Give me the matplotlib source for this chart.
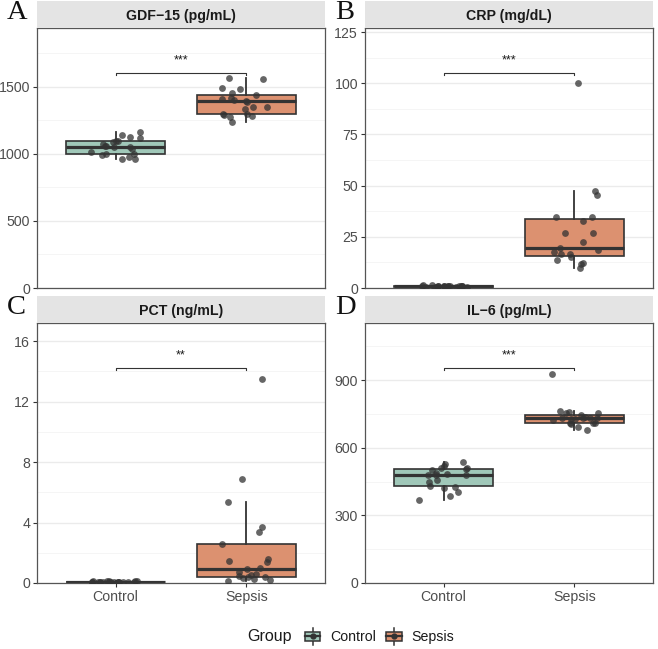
import numpy as np
import matplotlib
matplotlib.use("Agg")
import matplotlib.pyplot as plt
from matplotlib.patches import Rectangle, Patch
from matplotlib.lines import Line2D
from matplotlib.legend_handler import HandlerBase
from matplotlib.ticker import MultipleLocator

plt.rcParams['font.family'] = ['Liberation Sans', 'DejaVu Sans']

# values
groups = ["Control", "Sepsis"]

gdf_control = [959, 964, 976, 996, 1001, 1001, 1013, 1038, 1050, 1050,
               1057, 1062, 1075, 1087, 1095, 1100, 1117, 1129, 1144, 1161]
gdf_sepsis = [1235, 1273, 1285, 1290, 1296, 1300, 1334, 1347, 1352, 1391,
              1395, 1401, 1408, 1421, 1438, 1458, 1483, 1490, 1562, 1569]

crp_control = [1.5, 1.2, 0.9, 0.8, 1.0, 0.7, 1.3, 0.6, 1.1, 0.9,
               0.5, 1.0, 0.8, 1.2, 0.7, 0.6, 0.9, 1.1, 0.5, 0.8]
crp_sepsis = [9.7, 11.7, 12.2, 13.8, 14.9, 16.7, 16.7, 17.5, 18.7, 19.5,
              22.4, 26.8, 27.1, 32.8, 34.6, 34.6, 45.5, 47.6, 100.2]

pct_control = [0.05, 0.08, 0.12, 0.06, 0.04, 0.10, 0.07, 0.05, 0.15, 0.09,
               0.06, 0.11, 0.04, 0.08, 0.05, 0.13, 0.07, 0.06, 0.09, 0.05]
pct_sepsis = [0.15, 0.22, 0.26, 0.33, 0.37, 0.37, 0.44, 0.51, 0.59, 0.73,
              0.95, 1.02, 1.36, 1.43, 1.58, 2.6, 3.4, 3.7, 5.35, 6.9, 13.5]

il6_control = [366, 384, 403, 420, 425, 432, 450, 457, 478, 480,
               480, 482, 490, 502, 506, 512, 512, 521, 528, 536]
il6_sepsis = [679, 693, 704, 708, 708, 709, 723, 727, 727, 730,
              730, 730, 733, 738, 745, 752, 752, 757, 764, 927]

titles = ["GDF\u221215 (pg/mL)", "CRP (mg/dL)", "PCT (ng/mL)", "IL\u22126 (pg/mL)"]
letters = ["A", "B", "C", "D"]
sig_height = [1606, 105.2, 14.24, 955]
sig_label = ["***", "***", "**", "***"]

data = [(gdf_control, gdf_sepsis), (crp_control, crp_sepsis),
        (pct_control, pct_sepsis), (il6_control, il6_sepsis)]
ylims = [1940, 127, 17.2, 1153]
ystep = [500, 25, 4, 300]

fill = {"Control": "#a0c8b9", "Sepsis": "#dc9170"}
edge = "#333333"

W, H = 658, 649
fig = plt.figure(figsize=(W / 100, H / 100), dpi=100)

# panel boxes in pixels: left, top, right, bottom
boxes = [(37, 28, 325, 288), (365, 28, 653, 288),
         (37, 323, 325, 583), (365, 323, 653, 583)]
strip_h = 27

rng = np.random.default_rng(7)

for i in range(4):
    l, t, r, b = boxes[i]
    ax = fig.add_axes([l / W, 1 - b / H, (r - l) / W, (b - t) / H])
    st = fig.add_axes([l / W, 1 - t / H, (r - l) / W, strip_h / H])
    st.set_facecolor("#e4e4e4")
    st.set_xticks([]); st.set_yticks([])
    for s in st.spines.values():
        s.set_visible(False)
    st.text(0.5, 0.45, titles[i], ha="center", va="center", fontsize=10.2,
            fontweight="bold", color="#1a1a1a", transform=st.transAxes)

    ctrl, seps = data[i]
    bp = ax.boxplot([ctrl, seps], positions=[1, 2], widths=0.75, patch_artist=True,
                    showfliers=False, showcaps=False,
                    boxprops=dict(edgecolor=edge, linewidth=1.2),
                    whiskerprops=dict(color=edge, linewidth=1.3),
                    medianprops=dict(color=edge, linewidth=2.3), zorder=2)
    for patch, g in zip(bp["boxes"], groups):
        patch.set_facecolor(fill[g])

    for k, vals in enumerate([ctrl, seps]):
        xj = (k + 1) + rng.uniform(-0.19, 0.19, len(vals))
        ax.scatter(xj, vals, s=24, color="#333333", alpha=0.75, linewidths=0, zorder=3)

    # significance bracket
    top = ylims[i]
    tip = top * 0.01
    y = sig_height[i]
    ax.plot([1, 1, 2, 2], [y - tip, y, y, y - tip], color="#333333", lw=0.8, zorder=3)
    ax.text(1.5, y + top * 0.025, sig_label[i], ha="center", va="bottom",
            fontsize=9, color="#1a1a1a")

    ax.set_xlim(0.4, 2.6)
    ax.set_ylim(0, top)
    ax.yaxis.set_major_locator(MultipleLocator(ystep[i]))
    ax.yaxis.set_minor_locator(MultipleLocator(ystep[i] / 2))
    ax.grid(axis="y", which="major", color="#ebebeb", lw=1.0, zorder=0)
    ax.grid(axis="y", which="minor", color="#f4f4f4", lw=0.6, zorder=0)
    ax.set_axisbelow(True)
    ax.tick_params(axis="y", which="minor", length=0)
    ax.tick_params(axis="both", which="major", length=3, color="#333333",
                   labelsize=10.2, labelcolor="#4d4d4d", width=0.8, pad=2)
    ax.set_xticks([1, 2])
    if i >= 2:
        ax.set_xticklabels(groups)
    else:
        ax.set_xticklabels([])
        ax.tick_params(axis="x", length=0)
    for s in ax.spines.values():
        s.set_color("#555555")
        s.set_linewidth(0.9)

    fig.text((l - 30) / W, 1 - (t - 28) / H, letters[i], family="Liberation Serif",
             fontsize=20.5, ha="left", va="top", color="#111111")


class BoxKey(HandlerBase):
    def create_artists(self, legend, orig_handle, xdescent, ydescent,
                       width, height, fontsize, trans):
        x0, y0 = -xdescent, -ydescent
        cx = x0 + width / 2
        cy = y0 + height / 2
        rect = Rectangle((x0 + width * 0.1, y0 + height * 0.15), width * 0.8, height * 0.7,
                         facecolor=orig_handle.get_facecolor(), edgecolor=edge, lw=1.1,
                         transform=trans)
        wl = Line2D([cx, cx], [y0 - height * 0.1, y0 + height * 1.1], color=edge,
                    lw=1.1, transform=trans)
        md = Line2D([x0 + width * 0.1, x0 + width * 0.9], [cy, cy], color=edge,
                    lw=1.6, transform=trans)
        dot = Line2D([cx], [cy], marker="o", ms=3.5, color=edge, transform=trans)
        return [wl, rect, md, dot]


handles = [Patch(facecolor=fill[g]) for g in groups]
fig.text(247 / W, 1 - 637 / H, "Group", fontsize=11.5, color="#1a1a1a",
         ha="left", va="center")
fig.legend(handles, groups, handler_map={Patch: BoxKey()}, loc="center left",
           bbox_to_anchor=(296 / W, 1 - 637 / H), ncol=2, frameon=False,
           fontsize=10.2, handlelength=1.35, handleheight=1.1, handletextpad=0.55,
           columnspacing=0.6, borderpad=0, labelcolor="#1a1a1a")

fig.savefig("out.png", dpi=100)
